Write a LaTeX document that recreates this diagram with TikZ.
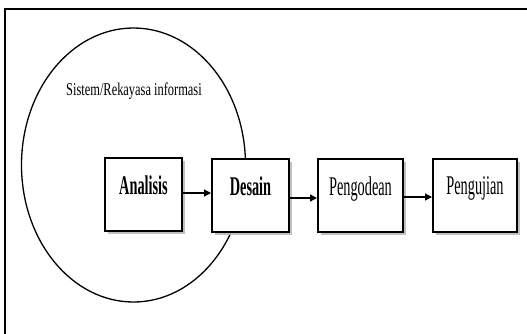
\documentclass[tikz,border=0pt]{standalone}
\usepackage{fontspec}
\setmainfont{Liberation Serif}
\newfontfamily\boxfont[FakeStretch=0.53]{Liberation Serif}
\newfontfamily\sysfont[FakeStretch=0.69]{Liberation Serif}
\usetikzlibrary{arrows.meta,shadows,shapes.geometric}
\tikzset{
  stagebox/.style={draw=black, line width=2pt, fill=white, rectangle,
    minimum height=73pt, inner sep=0pt, text height=0pt, text depth=1pt,
    font=\boxfont\fontsize{27}{30}\selectfont,
    drop shadow={shadow xshift=3pt, shadow yshift=-3pt, fill=gray!55, opacity=0.9}},
  boldlabel/.style={font=\boxfont\bfseries\fontsize{27}{30}\selectfont},
  flow/.style={draw=black, line width=1.3pt, -{Triangle[length=7pt,width=7pt]}},
  framel/.style={draw=black, line width=2pt},
  sysline/.style={draw=black, line width=1.3pt}
}
\begin{document}
\begin{tikzpicture}[x=1pt,y=-1pt]
\useasboundingbox (0,0) rectangle (527,333);
% outer frame (only top and left visible)
\coordinate (ftr) at (530,9);
\coordinate (ftl) at (5,9);
\coordinate (fbl) at (5,336);
\draw[framel] (ftr) -- (ftl) -- (fbl);
% system ellipse
\node[sysline, ellipse, draw, minimum width=224pt, minimum height=274pt, inner sep=0pt] (sys) at (133.5,165) {};
\node[font=\sysfont\fontsize{18}{20}\selectfont, anchor=base west, inner sep=0pt] (systxt) at (66,95) {Sistem/Rekayasa informasi};
% stages
\node[stagebox, boldlabel, minimum width=77pt] (ana) at (143.5,194.5) {Analisis};
\node[stagebox, boldlabel, minimum width=77pt] (des) at (250.5,195.5) {Desain};
\node[stagebox, minimum width=85pt] (pgd) at (360.5,195.5) {Pengodean};
\node[stagebox, minimum width=84pt] (pgj) at (475,195) {Pengujian};
% arrows
\draw[flow] ([yshift=1.5pt]ana.east) -- ([yshift=1.5pt]ana.east -| des.west);
\draw[flow] ([yshift=-2.5pt]des.east) -- ([yshift=-2.5pt]des.east -| pgd.west);
\draw[flow] ([yshift=-1.5pt]pgd.east) -- ([yshift=-1.5pt]pgd.east -| pgj.west);
\end{tikzpicture}
\end{document}
